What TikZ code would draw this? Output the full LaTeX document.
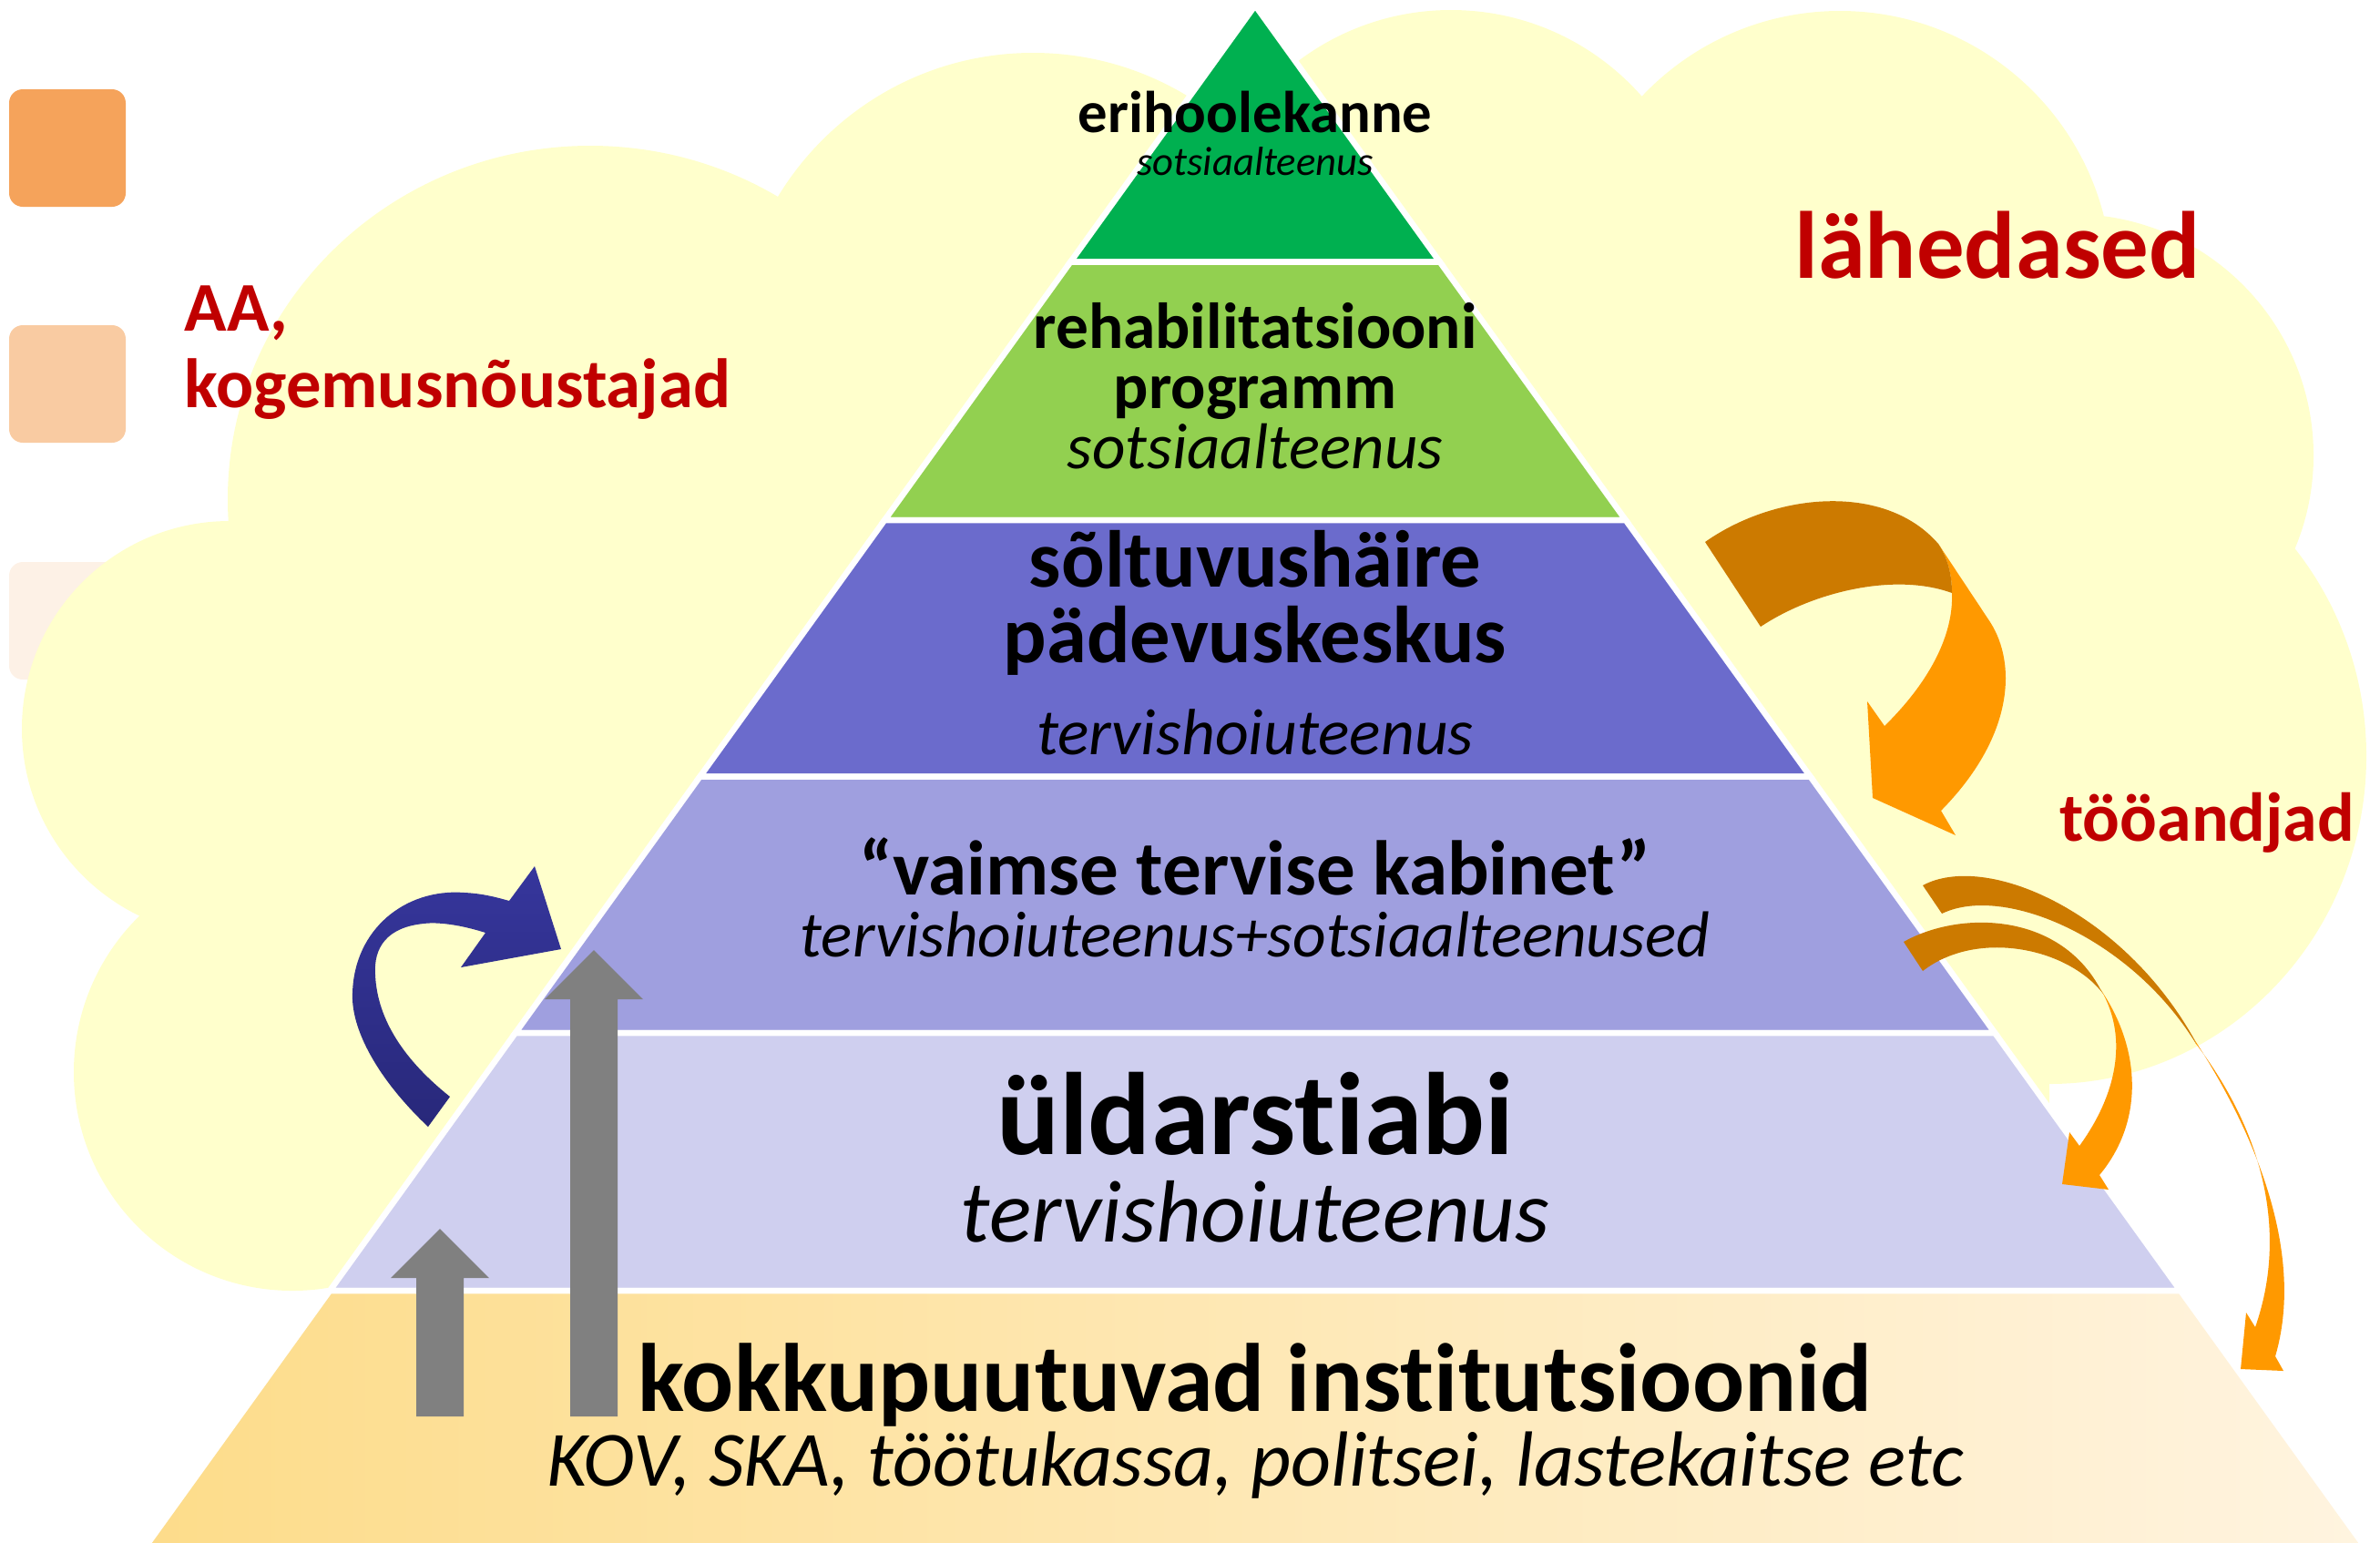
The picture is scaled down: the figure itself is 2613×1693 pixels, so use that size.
\documentclass[tikz,border=0pt]{standalone}
\usepackage{fontspec}
\setmainfont{Carlito}[Ligatures=CommonOff]
\definecolor{cloudyellow}{HTML}{FFFFCC}
\definecolor{sqone}{HTML}{F5A35B}
\definecolor{sqtwo}{HTML}{F9CBA2}
\definecolor{sqthree}{HTML}{FDF1E6}
\definecolor{greendark}{HTML}{00B050}
\definecolor{greenlight}{HTML}{92D050}
\definecolor{purpledark}{HTML}{6B6BCC}
\definecolor{purplelight}{HTML}{9F9FDF}
\definecolor{lavender}{HTML}{CFCFEF}
\definecolor{bandleft}{HTML}{FDDC8A}
\definecolor{bandright}{HTML}{FFF4E0}
\definecolor{redtext}{HTML}{C00000}
\definecolor{arrowgray}{HTML}{808080}
\definecolor{navytop}{HTML}{36369C}
\definecolor{navybot}{HTML}{28287A}
\definecolor{orangedark}{HTML}{CC7A00}
\definecolor{orangelight}{HTML}{FF9900}
\begin{document}
\begin{tikzpicture}
[x=0.01cm, y=-0.01cm,
every node/.style={inner sep=0pt, anchor=base},
cloud/.style={fill=cloudyellow},
band/.style={draw=white, line width=0.065cm},
square/.style={rounded corners=0.15cm},
redlbl/.style={text=redtext, font=\bfseries\fontsize{#1}{#1}\selectfont},
blk/.style={font=\bfseries\fontsize{#1}{#1}\selectfont},
itl/.style={font=\itshape\fontsize{#1}{#1}\selectfont},
grayarrow/.style={fill=arrowgray},
]
\def \apx {1378}
\def \sl {0.72} % half width of the pyramid per unit of height
\useasboundingbox (0,0) rectangle (2613,1693);
\clip (0,0) rectangle (2613,1693);

\foreach \y/\c in {98/sqone, 357/sqtwo, 617/sqthree}
{
\fill[square, fill=\c] (10,\y) rectangle (138,{\y+129});
}

% cloud
\fill[cloud] (648,548) ellipse [x radius=398, y radius=388];
\fill[cloud] (1134,385) circle [radius=327];
\fill[cloud] (1593,290) circle [radius=279];
\fill[cloud] (2020,311) circle [radius=299];
\fill[cloud] (2275,500) circle [radius=265];
\fill[cloud] (2250,830) ellipse [x radius=348, y radius=360];
\fill[cloud] (2000,1200) circle [radius=250];
\fill[cloud] (252,800) circle [radius=228];
\fill[cloud] (321,1177) circle [radius=240];
\fill[cloud] (648,548) -- (1134,385) -- (1593,290) -- (2020,311) -- (2275,500)
  -- (2250,830) -- (2000,1200) -- (321,1177) -- (252,800) -- cycle;

% pyramid
\foreach \t/\b/\c in {6/287.5/greendark, 287.5/571/greenlight, 571/852.5/purpledark,
  852.5/1134/purplelight, 1134/1417/lavender}
{
\filldraw[band, fill=\c] ({\apx-\sl*(\t-6)},\t) -- ({\apx+\sl*(\t-6)},\t)
  -- ({\apx+\sl*(\b-6)},\b) -- ({\apx-\sl*(\b-6)},\b) -- cycle;
}
\shadedraw[band, left color=bandleft, right color=bandright]
  ({\apx-\sl*(1417-6)},1417) -- ({\apx+\sl*(1417-6)},1417)
  -- ({\apx+\sl*(1720-6)},1720) -- ({\apx-\sl*(1720-6)},1720) -- cycle;

\node[blk=18.4] (eri) at (\apx,145) {erihoolekanne};
\node[itl=12.7] (erisots) at (\apx,192) {sotsiaalteenus};
\node[blk=20.3] (rehab) at (\apx,382) {rehabilitatsiooni};
\node[blk=20.3] (progr) at (\apx,448) {programm};
\node[itl=20.2] (rehabsots) at (\apx,514) {sotsiaalteenus};
\node[blk=25.2] (soltuv) at (\apx,644) {sõltuvushäire};
\node[blk=25.2] (padev) at (\apx,727) {pädevuskeskus};
\node[itl=20.4] (soltsots) at (\apx,828) {tervishoiuteenus};
\node[blk=24.2] (vaimne) at (\apx,982) {“vaimse tervise kabinet”};
\node[itl=20.3] (vaimsots) at (\apx,1050) {tervishoiuteenus+sotsiaalteenused};
\node[blk=36.6] (uld) at (\apx,1267) {üldarstiabi};
\node[itl=27.5] (uldsots) at (\apx,1363) {tervishoiuteenus};
\node[blk=30.3] (kokku) at (\apx,1549) {kokkupuutuvad institutsioonid};
\node[itl=24.4] (kov) at (\apx,1631) {KOV, SKA, töötukassa, politsei, lastekaitse etc};

\node[redlbl=21.8, anchor=base west] (aa) at (202,363) {AA,};
\node[redlbl=21.8, anchor=base west] (kogemus) at (202,447) {kogemusnõustajad};
\node[redlbl=29.8] (lahedased) at (2193,305) {lähedased};
\node[redlbl=21.6] (tooandjad) at (2423,923) {tööandjad};

% up arrows
\foreach \ax/\tip in {483/1349, 652/1043}
{
\fill[grayarrow] ({\ax-26},1555) -- ({\ax-26},{\tip+54}) -- ({\ax-54},{\tip+54}) -- (\ax,\tip)
  -- ({\ax+54},{\tip+54}) -- ({\ax+26},{\tip+54}) -- ({\ax+26},1555) -- cycle;
}

% blue turn arrow
\shade[top color=navytop, bottom color=navybot]
  (470,1237) .. controls (415,1185) and (385,1130) .. (387,1090)
  .. controls (389,1020) and (445,975) .. (510,980)
  .. controls (530,981) and (545,985) .. (559,989)
  -- (587,951) -- (616,1042) -- (506,1062) -- (533,1024)
  .. controls (505,1015) and (480,1012) .. (465,1014)
  .. controls (425,1018) and (410,1040) .. (412,1070)
  .. controls (414,1120) and (445,1165) .. (494,1204) -- cycle;

% orange arrows
\fill[orangelight] (2128,597) -- (2185,683) .. controls (2215,730) and (2210,810) .. (2131,890)
  -- (2147,917) -- (2056,876) -- (2050,770) -- (2069,797)
  .. controls (2115,752) and (2145,700) .. (2143,651)
  .. controls (2143,630) and (2138,612) .. (2128,597) -- cycle;
\fill[orangedark] (1872,595) .. controls (1950,540) and (2070,530) .. (2128,597)
  .. controls (2138,612) and (2143,630) .. (2143,651)
  .. controls (2080,628) and (1990,650) .. (1933,688) -- cycle;

\fill[orangelight] (2306,1086) .. controls (2350,1150) and (2355,1230) .. (2305,1290)
  -- (2315,1306) -- (2264,1300) -- (2272,1243) -- (2283,1258)
  .. controls (2325,1200) and (2335,1140) .. (2309,1091) -- cycle;
\fill[orangedark] (2090,1034) .. controls (2150,1000) and (2260,1000) .. (2306,1086)
  -- (2309,1091) .. controls (2270,1040) and (2170,1020) .. (2111,1066) -- cycle;

\fill[orangelight] (2409,1141) .. controls (2480,1250) and (2530,1380) .. (2498,1489)
  -- (2507,1505) -- (2460,1503) -- (2466,1441) -- (2476,1457)
  .. controls (2510,1360) and (2490,1250) .. (2411,1146) -- cycle;
\fill[orangedark] (2111,972) .. controls (2180,935) and (2330,1000) .. (2409,1141)
  -- (2411,1146) .. controls (2340,1030) and (2200,970) .. (2132,1003) -- cycle;
\end{tikzpicture}
\end{document}
